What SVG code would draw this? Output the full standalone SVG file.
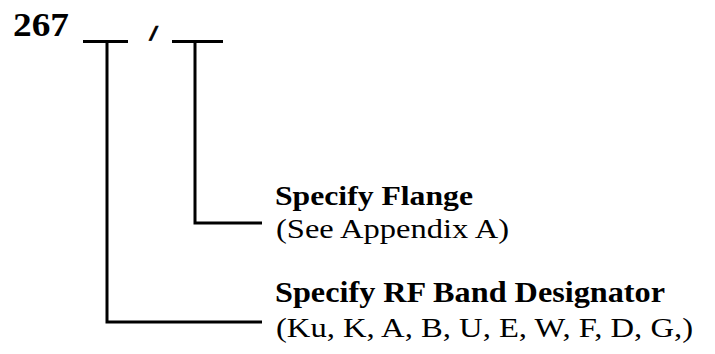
<svg xmlns="http://www.w3.org/2000/svg" width="715" height="354" viewBox="0 0 715 354">
  <style>
    .ln { fill: none; stroke: #000; stroke-width: 3; stroke-linecap: butt; stroke-linejoin: miter; }
    .hd { font-family: "Liberation Serif", "Times New Roman", serif; font-weight: bold; fill: #000; }
    .rg { font-family: "Liberation Serif", "Times New Roman", serif; fill: #000; }
  </style>
  <rect width="715" height="354" fill="#fff"/>
  <g id="part-number">
    <text class="hd" x="13" y="36" font-size="33" textLength="56" lengthAdjust="spacingAndGlyphs">267</text>
    <text x="149" y="40" font-family="Liberation Sans, Arial, sans-serif" font-weight="bold" font-size="19" fill="#000" stroke="#000" stroke-width="0.9" transform="skewX(-16) translate(11.5 0)">/</text>
  </g>
  <g id="connectors">
    <path class="ln" d="M83 41.5 H128"/>
    <path class="ln" d="M107 41.5 V322 H262"/>
    <path class="ln" d="M172 41.5 H223"/>
    <path class="ln" d="M195 41.5 V223 H262"/>
  </g>
  <g id="flange">
    <text class="hd" x="275" y="205" font-size="28" textLength="198" lengthAdjust="spacingAndGlyphs">Specify Flange</text>
    <text class="rg" x="276" y="238" font-size="28" textLength="233" lengthAdjust="spacingAndGlyphs">(See Appendix A)</text>
  </g>
  <g id="rf-band">
    <text class="hd" x="275" y="302" font-size="28.5" textLength="390" lengthAdjust="spacingAndGlyphs">Specify RF Band Designator</text>
    <text class="rg" x="276" y="337" font-size="28" textLength="417" lengthAdjust="spacingAndGlyphs">(Ku, K, A, B, U, E, W, F, D, G,)</text>
  </g>
</svg>
